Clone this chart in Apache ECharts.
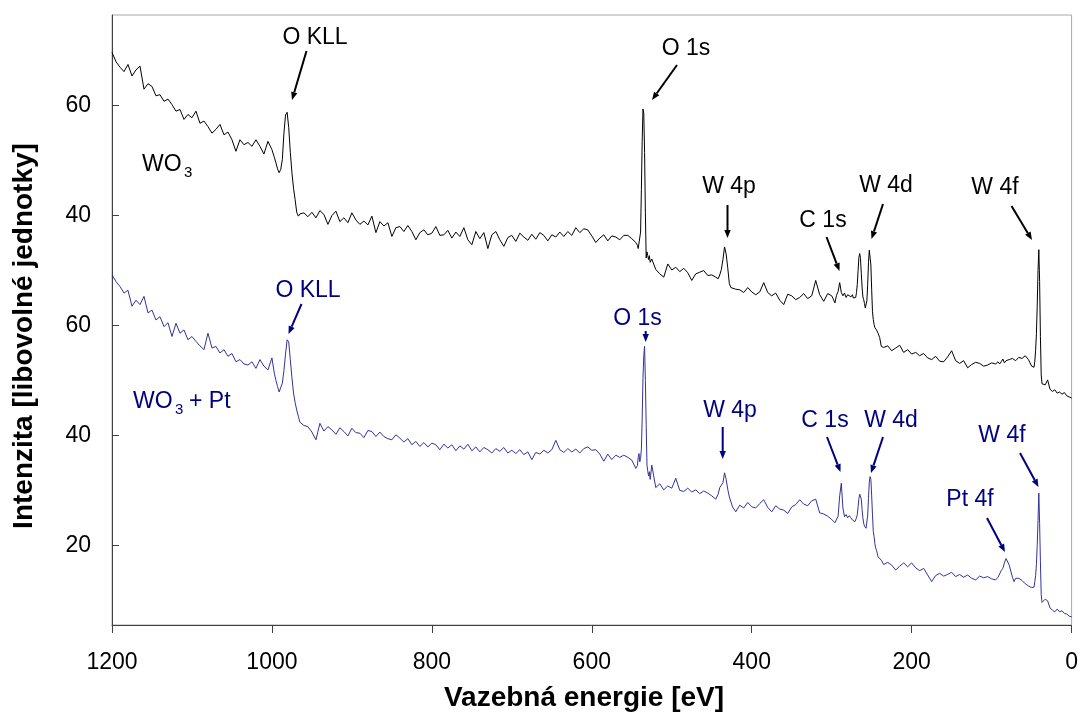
<!DOCTYPE html>
<html><head><meta charset="utf-8">
<script src="https://cdn.jsdelivr.net/npm/echarts@6/dist/echarts.min.js"></script>
<style>html,body{margin:0;padding:0;background:#fff}#c{width:1081px;height:713px}</style>
</head><body><div id="c"></div>
<script>
// Binding energy grid [eV]
const energy = [
1200,1195,1190,1185,1180,1175,1170,1165,1160,1155,1150,1145,1140,1135,1130,1125,1120,1115,1110,1105,1100,1095,1090,1085,1080,1075,1070,1065,1060,1055,1050,1045,1040,1035,1030,1025,1020,1015,1010,1005,1000,
997,995,993,991,989,987,985,983,981,979,977,975,973,971,969,967,965,
960,955,950,945,940,935,930,925,920,915,910,905,900,895,890,885,880,875,870,865,860,855,850,845,840,835,830,825,820,815,810,805,800,795,790,785,780,775,770,765,760,755,750,745,740,735,730,725,720,715,710,705,700,695,690,685,680,675,670,665,660,655,650,645,640,635,630,625,620,615,610,605,600,595,590,585,580,575,570,565,560,555,550,545,
543,542,541,540,539,538,537,536,535,534,533,532,531,530,529,528,527,
525,520,515,510,505,500,495,490,485,480,475,470,465,460,455,450,445,
442,440,438,436,434,432,430,428,426,424,
420,415,410,405,400,395,390,385,380,375,370,365,360,355,350,345,340,335,330,325,320,315,310,305,300,
298,296,294,292,290,288,286,284,282,280,278,276,274,
273,272,271,270,269,268,267,266,265,264,263,262,261,260,259,258,257,256,255,254,253,252,251,250,249,248,247,246,245,244,
242,240,238,
235,230,225,220,215,210,205,200,195,190,185,180,175,170,165,160,155,150,145,140,135,130,125,120,115,110,105,100,95,
92,90,88,86,84,82,80,78,76,74,72,70,
66,62,58,54,50,
48,47,46,45,44,43,42,41,40,39,38,37,36,
33,30,27,24,21,18,15,12,9,6,3,0
];
// WO3 spectrum (upper trace, own intensity scale)
const wo3 = [
69.7,68.0,67.0,66.2,67.5,65.4,66.5,67.2,63.0,64.0,63.5,61.8,62.0,60.8,61.2,60.2,59.0,59.3,57.5,58.4,57.8,59.0,56.8,57.2,56.2,55.0,55.7,56.6,54.7,55.2,53.8,51.7,53.8,52.9,53.3,52.6,53.8,52.6,51.2,53.5,52.0,
50.6,49.6,48.5,47.8,48.4,50.2,55.0,58.3,58.8,56.0,51.5,47.8,45.0,42.9,40.6,39.9,40.3,
40.5,39.8,40.6,39.6,40.9,40.2,38.4,40.0,40.8,38.9,39.6,38.7,40.5,39.2,38.4,39.0,38.3,39.9,36.9,38.9,38.1,38.7,36.2,37.8,38.0,37.1,38.2,37.1,35.6,36.9,37.4,36.5,36.8,38.0,36.4,36.5,37.3,35.9,37.0,36.2,37.8,35.6,34.7,37.1,35.8,36.9,34.0,36.5,37.1,35.6,34.4,36.0,36.4,35.3,36.8,36.1,35.5,36.6,35.7,36.9,36.4,35.4,36.5,36.1,37.0,36.2,37.1,36.4,37.8,36.9,37.6,37.4,36.3,35.1,35.9,36.5,35.4,36.3,36.1,35.6,36.4,36.4,35.8,35.1,
34.6,34.0,33.7,34.2,37.0,44.7,53.5,59.4,58.6,51.5,40.5,32.3,33.4,32.7,32.0,32.7,31.5,
32.1,30.2,29.4,28.8,31.2,30.1,30.6,29.8,30.4,29.6,28.2,29.4,29.7,30.0,29.1,29.2,28.8,
28.5,29.2,30.2,32.0,34.3,33.0,30.5,27.6,26.9,27.2,
26.6,26.5,26.0,26.9,26.1,25.6,26.1,27.8,26.0,25.4,25.9,24.6,23.8,25.7,25.4,24.7,25.1,25.8,24.9,25.4,28.2,25.6,24.4,25.8,25.4,
24.8,24.1,25.5,26.2,27.8,26.0,25.4,25.9,25.1,25.6,25.8,25.2,25.6,
25.0,25.1,24.8,25.1,26.0,27.5,30.0,32.4,33.1,32.2,29.5,27.0,25.2,24.7,24.0,23.2,23.0,24.5,27.5,31.5,33.7,33.6,31.0,26.5,22.5,21.1,20.2,19.6,19.8,19.2,
18.6,17.8,16.2,
16.0,16.3,15.4,15.9,16.4,15.1,15.6,14.8,15.1,14.5,14.9,14.1,13.8,14.4,13.5,13.4,14.3,15.4,13.6,13.1,13.6,12.3,12.9,13.3,13.1,12.6,12.8,13.2,13.0,
13.4,13.0,13.4,13.9,13.2,13.6,13.3,13.8,13.5,14.0,13.8,13.6,
14.2,14.0,14.5,13.8,12.6,
12.6,12.4,13.5,15.5,18.5,23.5,30.0,33.8,28.0,18.0,11.0,9.4,9.6,
9.2,10.1,8.4,8.0,8.3,7.7,7.9,7.5,7.8,7.2,7.0,6.8
];
// WO3 + Pt spectrum (lower trace)
const wo3Pt = [
69.2,68.0,67.1,65.9,66.4,63.5,64.6,63.8,65.3,62.3,62.8,61.0,61.6,59.8,60.5,58.0,60.4,58.6,59.2,57.4,58.0,57.1,56.3,55.6,58.6,55.9,56.2,55.0,55.6,54.4,54.9,53.4,53.8,53.0,52.8,53.4,52.2,53.8,52.6,51.9,54.1,
51.3,50.0,48.9,47.9,47.7,49.5,51.8,54.8,57.4,57.0,53.8,50.5,47.7,46.0,44.6,43.5,42.4,
41.8,41.6,40.6,39.2,42.2,40.8,41.6,41.0,40.2,41.4,40.7,39.9,41.3,40.5,40.4,39.6,40.9,40.7,39.8,40.6,39.8,39.4,39.2,40.1,39.5,38.8,39.4,38.3,38.9,38.0,38.7,37.9,38.6,38.3,37.4,38.4,37.7,38.3,37.2,38.1,37.5,38.4,37.2,37.9,37.0,37.8,37.4,36.8,37.6,37.1,37.8,36.8,37.3,36.7,37.4,36.5,37.0,35.6,36.9,36.6,37.3,36.8,37.4,39.1,37.4,36.9,37.6,37.0,37.5,36.8,37.6,37.9,37.3,37.4,36.6,35.3,36.6,35.6,36.4,36.0,36.4,36.0,35.5,34.0,
34.5,36.0,36.7,35.2,35.8,37.5,43.0,50.4,54.5,56.2,50.0,42.0,34.6,33.5,32.6,33.4,32.0,
34.6,30.5,31.2,30.1,30.8,30.4,32.2,30.0,29.8,30.4,29.7,30.1,29.4,29.9,29.5,29.0,28.4,
29.3,30.5,30.4,31.4,33.2,32.0,30.2,28.8,28.5,27.0,
26.1,27.3,26.8,27.8,27.0,26.8,27.6,28.3,26.9,26.1,27.2,26.6,26.4,25.8,27.0,27.4,28.3,27.5,27.2,28.1,28.4,25.9,25.7,25.3,24.7,
24.5,24.1,24.3,25.3,29.0,31.3,26.8,25.2,25.6,25.0,25.4,25.0,24.6,
24.3,24.8,24.3,24.6,25.0,25.6,27.0,28.5,29.3,29.5,28.4,26.5,25.0,24.0,23.5,23.2,23.1,23.4,25.5,28.5,31.5,32.5,32.0,29.0,25.5,22.5,21.6,20.3,19.5,19.1,
17.9,17.6,17.3,
16.5,16.9,16.4,15.5,16.2,16.8,16.1,16.8,15.9,15.4,15.8,14.6,13.4,14.5,14.9,14.4,14.7,15.1,14.3,14.7,14.2,14.6,14.0,13.7,14.4,14.1,14.3,13.9,13.7,
14.2,14.5,15.4,15.8,16.8,17.6,17.9,16.4,16.1,14.2,13.4,14.0,
14.0,13.6,13.0,12.6,12.3,
12.0,12.4,13.4,14.5,16.5,20.0,24.5,29.5,24.0,17.0,11.0,9.6,9.8,
10.2,9.9,8.6,8.2,7.9,8.4,7.9,8.1,7.6,7.5,7.1,7.0
];
const upperOffset = 40;            // vertical shift of the WO3 trace
const yTickValues = [20, 40, 60, 80, 100];
const xTitle = 'Vazebná energie [eV]';
const yTitle = 'Intenzita [libovolné jednotky]';

const FONT = '"Liberation Sans", Arial, sans-serif';
const BLACK = '#000000', NAVY = '#000080', BLUE = '#333399';

function txt(x, y, s, color, size, bold, rot) {
  return {type: 'text', x: x, y: y, rotation: rot || 0, z: 100,
    style: {text: s, fill: color, font: (bold ? 'bold ' : '') + size + 'px ' + FONT,
      align: 'center', verticalAlign: 'middle', textAlign: 'center', textVerticalAlign: 'middle'}};
}
function ltxt(x, y, s, color, size) {
  return {type: 'text', x: x, y: y, z: 100,
    style: {text: s, fill: color, font: size + 'px ' + FONT,
      align: 'left', verticalAlign: 'middle', textAlign: 'left', textVerticalAlign: 'middle'}};
}
function arrow(x1, y1, x2, y2, color) {
  const a = Math.atan2(y2 - y1, x2 - x1), L = 8, W = 3.2;
  const bx = x2 - L * Math.cos(a), by = y2 - L * Math.sin(a);
  const px = -Math.sin(a) * W, py = Math.cos(a) * W;
  return [
    {type: 'line', z: 100, shape: {x1: x1, y1: y1, x2: bx, y2: by}, style: {stroke: color, lineWidth: 2}},
    {type: 'polygon', z: 100, shape: {points: [[x2, y2], [bx + px, by + py], [bx - px, by - py]]}, style: {fill: color}}
  ];
}

const graphics = [
  txt(584, 698, xTitle, BLACK, 28, true),
  txt(24, 336, yTitle, BLACK, 28, true, Math.PI / 2),
  // upper annotations
  txt(315, 38, 'O KLL', BLACK, 23), ...arrow(306.5, 51, 292, 100, BLACK),
  txt(686, 49, 'O 1s', BLACK, 23), ...arrow(677, 65, 652, 100, BLACK),
  txt(729, 187, 'W 4p', BLACK, 23), ...arrow(727.5, 205, 727.5, 238, BLACK),
  txt(823, 221, 'C 1s', BLACK, 23), ...arrow(826.5, 237, 839.5, 271, BLACK),
  txt(886, 186, 'W 4d', BLACK, 23), ...arrow(883, 204, 871.5, 239, BLACK),
  txt(995, 187.5, 'W 4f', BLACK, 23), ...arrow(1011.5, 206, 1032, 240, BLACK),
  ltxt(142, 165, 'WO', BLACK, 23),
  ltxt(184, 173, '3', BLACK, 15),
  // lower annotations
  txt(308, 291, 'O KLL', NAVY, 23), ...arrow(301.5, 304, 288.5, 334, NAVY),
  txt(637.5, 319, 'O 1s', NAVY, 23), ...arrow(645.7, 331, 645.7, 342, NAVY),
  txt(730, 410.5, 'W 4p', NAVY, 23), ...arrow(722.7, 427, 722.7, 459, NAVY),
  txt(825, 421, 'C 1s', NAVY, 23), ...arrow(827, 437, 840.5, 472, NAVY),
  txt(891, 421, 'W 4d', NAVY, 23), ...arrow(883, 437, 871, 473, NAVY),
  txt(1002, 436, 'W 4f', NAVY, 23), ...arrow(1020, 453, 1038.5, 487, NAVY),
  txt(970, 500, 'Pt 4f', NAVY, 23), ...arrow(987, 518, 1005, 552, NAVY),
  ltxt(133, 401.5, 'WO', NAVY, 23),
  ltxt(175, 409.5, '3', NAVY, 15),
  ltxt(189, 401.5, '+ Pt', NAVY, 23)
];

const chart = echarts.init(document.getElementById('c'), null, {renderer: 'canvas'});
chart.setOption({
  animation: false,
  backgroundColor: '#ffffff',
  grid: {left: 112, right: 7, top: 15, bottom: 88, show: true, borderColor: '#a8a8a8', borderWidth: 1, backgroundColor: 'transparent'},
  xAxis: {
    type: 'value', min: 0, max: 1200, interval: 200, inverse: true,
    axisLine: {show: true, onZero: false, lineStyle: {color: '#404040', width: 1}},
    axisTick: {show: true, inside: false, length: 8, lineStyle: {color: '#404040'}},
    axisLabel: {fontSize: 23, fontFamily: FONT, color: '#000', margin: 26,
      formatter: function (v) { return String(v); }},
    splitLine: {show: false}
  },
  yAxis: {
    type: 'value', min: 5.5, max: 116.5,
    axisLine: {show: true, onZero: false, lineStyle: {color: '#404040', width: 1}},
    axisTick: {show: true, inside: true, length: 7, customValues: yTickValues, lineStyle: {color: '#404040'}},
    axisLabel: {fontSize: 23, fontFamily: FONT, color: '#000', margin: 21, customValues: yTickValues,
      formatter: function (v) { return String(v >= 80 ? v - upperOffset : v); }},
    splitLine: {show: false}
  },
  series: [
    {type: 'line', name: 'WO3', showSymbol: false, symbol: 'none',
     lineStyle: {color: BLACK, width: 1}, data: energy.map((e, i) => [e, wo3[i] + upperOffset])},
    {type: 'line', name: 'WO3 + Pt', showSymbol: false, symbol: 'none',
     lineStyle: {color: BLUE, width: 1}, data: energy.map((e, i) => [e, wo3Pt[i]])}
  ],
  graphic: graphics
});
</script>
</body></html>
